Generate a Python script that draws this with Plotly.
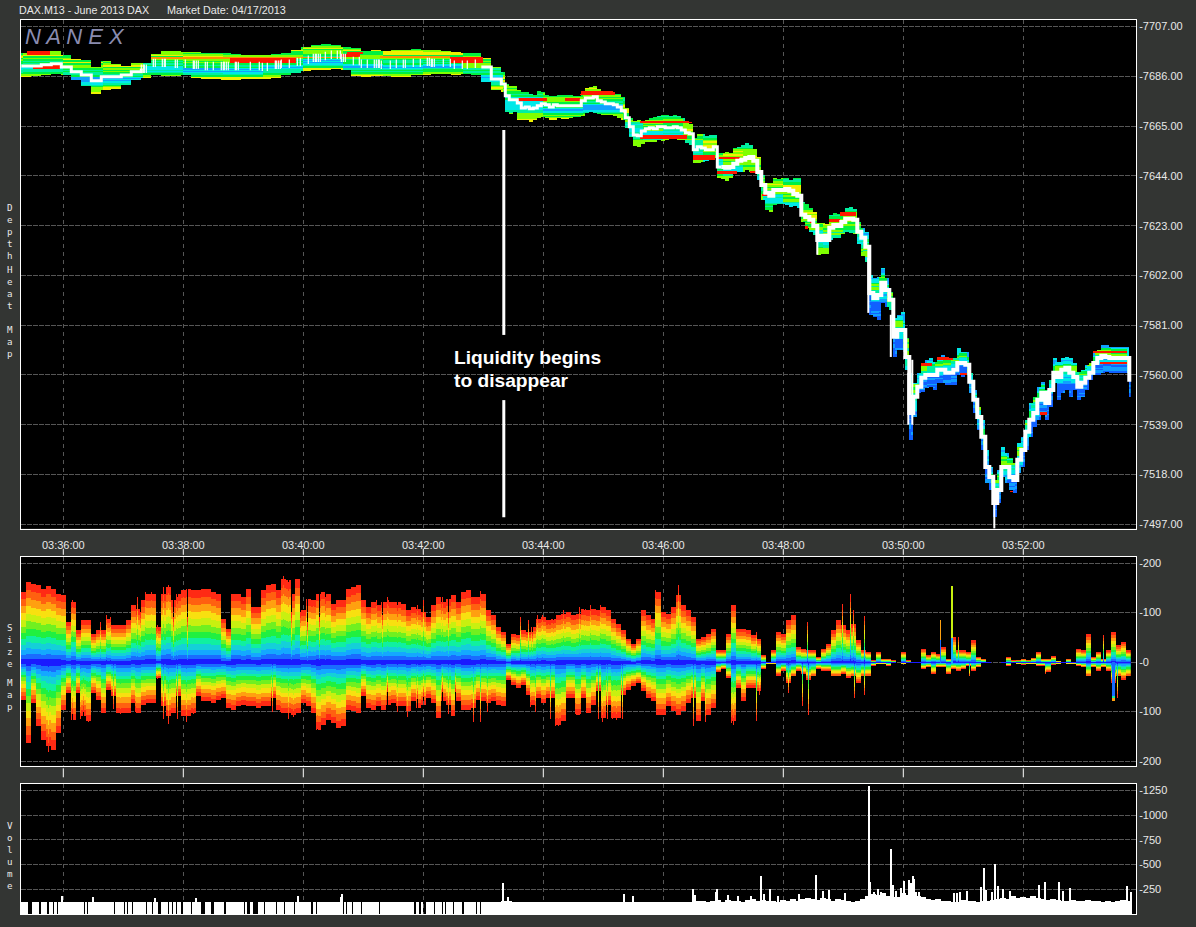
import numpy as np
import plotly.graph_objects as go

W, H = 1196, 927
title_left = "DAX.M13 - June 2013 DAX"
title_right = "Market Date: 04/17/2013"
time_ticks = [0, 120, 240, 360, 480, 600, 720, 840, 960]
time_labels = ["03:36:00", "03:38:00", "03:40:00", "03:42:00", "03:44:00", "03:46:00", "03:48:00", "03:50:00", "03:52:00"]
price_ticks = [7707, 7686, 7665, 7644, 7623, 7602, 7581, 7560, 7539, 7518, 7497]
size_ticks = [200, 100, 0, -100, -200]
size_labels = ["-200", "-100", "-0", "-100", "-200"]
vol_ticks = [1250, 1000, 750, 500, 250]

# ---------- price ribbon: seconds after 03:36:00 ----------
early_hi = [7695.9,7696.3,7696.7,7696.7,7695.1,7693.4,7693.0,7690.0,7692.5,7691.3,7690.4,7691.7,7691.7,7695.5,7696.7,7696.7,7696.3,7696.3,7695.9,7695.9,7695.9,7695.5,7695.1,7695.1,7695.1,7695.5,7695.9,7697.2,7698.4,7699.3,7699.7,7699.3,7698.4,7698.0,7696.7,7697.2,7696.7,7697.2,7697.2,7697.6,7697.2,7697.2,7696.7,7696.3,7695.9,7695.9,7693.8,7690.0]
early_lo = [7685.8,7686.2,7686.6,7687.1,7686.6,7684.5,7682.0,7678.6,7680.3,7680.7,7682.4,7684.5,7685.4,7686.6,7686.2,7686.2,7686.6,7685.4,7685.0,7685.0,7684.5,7684.5,7685.0,7685.0,7685.0,7685.4,7686.6,7687.5,7688.3,7688.7,7688.7,7689.2,7688.7,7686.2,7685.8,7686.2,7686.2,7685.8,7685.8,7686.6,7686.6,7687.1,7687.1,7686.6,7687.1,7686.6,7683.7,7680.3]
early_mid = [7690.4,7690.4,7690.9,7691.3,7690.0,7687.9,7686.6,7684.1,7685.8,7685.8,7686.6,7687.9,7689.2,7691.7,7691.7,7691.3,7691.3,7690.9,7690.4,7690.4,7690.4,7690.4,7690.4,7690.4,7690.0,7690.9,7691.3,7692.1,7693.0,7693.8,7694.6,7695.1,7693.8,7692.5,7691.3,7691.3,7690.9,7691.3,7691.3,7691.7,7692.1,7691.7,7691.7,7690.9,7690.9,7691.3,7690.0,7684.9]
late_hi = [7687.9,7682.8,7682.0,7682.0,7680.3,7679.5,7679.5,7678.6,7678.2,7679.9,7679.5,7678.2,7677.8,7677.8,7678.2,7678.2,7678.2,7678.2,7677.8,7677.8,7679.9,7681.2,7681.6,7682.0,7680.7,7679.9,7679.1,7679.1,7678.6,7678.6,7677.4,7672.7,7668.5,7667.2,7667.7,7666.4,7667.7,7668.5,7668.9,7669.3,7669.8,7669.8,7669.3,7669.8,7669.3,7668.5,7666.8,7666.0,7660.1,7661.8,7661.8,7660.9,7661.3,7661.3,7653.7,7653.7,7654.2,7653.7,7655.8,7656.3,7657.1,7658.0,7657.1,7655.4,7652.0,7644.4,7641.1,7641.1,7643.2,7642.8,7643.2,7643.2,7642.3,7643.2,7643.2,7633.1,7632.2,7630.5,7628.8,7624.2,7624.2,7623.8,7627.6,7628.4,7628.0,7628.8,7630.5,7631.0,7630.1,7624.6,7622.1,7620.4,7602.3,7601.0,7601.4,7605.2,7601.0,7595.1,7584.1,7585.4,7586.6,7575.7,7560.9,7556.7,7560.9,7565.1,7566.4,7567.2,7565.5,7567.6,7568.5,7567.2,7566.4,7567.2,7571.4,7569.8,7569.8,7560.9,7553.7,7546.5,7541.1,7528.4,7521.2,7515.7,7520.0,7529.7,7527.1,7525.0,7522.9,7531.4,7533.9,7541.1,7548.2,7550.8,7555.0,7557.1,7553.7,7557.9,7567.2,7565.5,7567.2,7567.6,7567.2,7565.1,7561.3,7562.2,7564.3,7565.1,7569.3,7570.6,7572.7,7572.7,7571.9,7571.9,7571.9,7571.9,7571.9,7564.3]
late_lo = [7679.5,7671.0,7670.2,7671.0,7667.7,7667.7,7667.7,7666.8,7667.7,7668.5,7668.9,7668.5,7667.7,7667.7,7668.5,7668.1,7668.1,7668.5,7668.9,7668.9,7669.3,7670.6,7671.0,7670.6,7670.2,7669.8,7669.8,7669.8,7669.3,7668.5,7667.7,7664.3,7660.5,7656.7,7656.3,7657.5,7658.4,7658.4,7658.4,7659.2,7658.8,7659.2,7659.6,7660.1,7659.2,7659.2,7658.0,7657.1,7649.5,7649.5,7649.9,7650.4,7651.2,7651.6,7643.2,7642.8,7641.9,7643.2,7644.9,7645.7,7645.7,7646.6,7645.7,7645.7,7642.3,7633.9,7629.7,7628.8,7631.8,7632.2,7632.2,7631.8,7630.9,7631.4,7630.5,7624.6,7622.1,7620.4,7619.1,7610.7,7611.1,7611.1,7617.0,7617.9,7617.9,7619.6,7620.4,7620.0,7619.6,7615.3,7610.3,7607.7,7585.4,7584.5,7583.3,7590.4,7588.7,7587.5,7567.6,7570.6,7570.6,7562.2,7532.6,7542.3,7552.5,7552.9,7554.6,7555.0,7553.7,7556.7,7556.7,7555.8,7555.8,7555.8,7560.0,7559.2,7560.0,7552.5,7544.0,7536.8,7528.4,7514.5,7511.5,7500.1,7506.0,7517.0,7514.5,7511.5,7510.3,7518.7,7521.2,7528.4,7533.9,7538.1,7541.1,7544.0,7541.1,7546.5,7556.7,7549.5,7552.5,7553.7,7550.8,7553.7,7549.5,7550.8,7553.7,7557.9,7560.0,7560.0,7560.9,7561.3,7560.9,7560.9,7560.9,7560.9,7560.9,7550.8]
late_mid = [7682.8,7677.8,7676.1,7676.1,7674.8,7672.7,7673.1,7672.3,7672.7,7673.6,7674.4,7674.0,7673.1,7674.0,7673.6,7673.6,7673.6,7673.6,7673.6,7673.6,7675.7,7676.9,7676.9,7677.4,7675.7,7675.2,7674.4,7674.4,7674.0,7673.1,7671.5,7668.5,7664.7,7661.3,7660.9,7663.0,7663.9,7664.3,7663.9,7664.7,7664.7,7664.3,7664.3,7664.7,7664.3,7663.4,7662.2,7661.8,7655.0,7656.3,7655.8,7655.0,7655.0,7656.3,7647.8,7647.8,7647.4,7647.8,7649.1,7650.4,7650.8,7651.6,7652.0,7650.4,7645.7,7640.2,7636.9,7635.6,7638.1,7638.1,7638.1,7638.5,7637.7,7636.4,7635.6,7627.6,7626.7,7625.5,7622.9,7617.0,7618.7,7617.0,7622.1,7623.3,7622.9,7624.6,7625.9,7625.9,7625.5,7620.4,7617.9,7614.1,7594.6,7592.5,7593.8,7598.9,7595.9,7591.7,7576.1,7579.0,7579.0,7567.6,7544.0,7550.8,7555.0,7558.8,7560.0,7560.0,7560.0,7562.2,7562.2,7560.9,7560.9,7562.2,7565.1,7565.1,7564.3,7557.1,7549.5,7542.3,7533.9,7521.2,7517.0,7506.0,7511.5,7521.2,7521.2,7517.0,7515.7,7524.2,7528.4,7536.0,7541.1,7544.0,7549.5,7552.5,7548.2,7553.7,7560.9,7559.2,7562.2,7563.0,7560.9,7559.2,7555.0,7556.7,7558.8,7560.9,7565.1,7567.2,7568.1,7567.6,7567.2,7567.2,7567.2,7567.2,7567.2,7557.1]
early_t = list(range(-42, 438, 10))
late_t = list(range(438, 438 + 4 * len(late_hi), 4))

# short white prints in the flat stretch (seconds)
print_t = [78, 80, 81, 83, 90, 92, 99, 101, 102, 112, 114, 122, 130, 131, 133, 135, 142, 144, 150, 158, 160, 161, 163, 165, 172, 173, 175, 187, 196, 199, 204, 212, 213, 215, 217, 218, 226, 234, 237, 245, 250, 252, 253, 255, 257, 262, 268, 274, 277, 278, 280, 282, 290, 296, 298, 304, 311, 313, 315, 316, 318, 327, 333, 340, 342, 350, 357, 364, 366, 368, 369, 371, 380, 387, 391, 399, 404, 412]

# resting levels: start s, end s, price, thickness in points, colour
level_t0 = [-36, -30, 77, 167, 277, 284, 117, 387, 317, 455, 502, 517, 577, 577, 630, 654, 654, 687, 699, 737, 765, 777, 747, 873, 856, 1030, 1037, 977, 947, 897]
level_t1 = [-13, -3, 230, 233, 297, 300, 277, 420, 387, 484, 517, 552, 624, 629, 652, 674, 677, 694, 707, 745, 777, 793, 752, 890, 869, 1064, 1064, 984, 950, 904]
level_p = [7695.9, 7690.0, 7693.8, 7693.0, 7695.1, 7695.9, 7694.2, 7693.0, 7694.2, 7676.5, 7676.5, 7679.1, 7660.7, 7666.8, 7652.0, 7645.7, 7651.6, 7645.7, 7636.0, 7622.5, 7625.5, 7628.0, 7625.0, 7567.2, 7564.7, 7569.8, 7565.1, 7544.0, 7510.7, 7560.5]
level_h = [1.2, 1.2, 0.6, 1.8, 0.9, 0.7, 0.5, 1.8, 0.6, 0.9, 0.9, 1.2, 1.3, 0.6, 1.6, 0.8, 0.6, 0.8, 0.6, 0.8, 0.8, 1.2, 0.8, 0.8, 0.8, 0.6, 0.6, 0.9, 0.6, 0.6]
level_c = ["red", "red", "orange", "red", "red", "red", "orange", "red", "orange", "red", "red", "red", "red", "red", "red", "red", "red", "red", "red", "red", "red", "red", "red", "red", "red", "red", "red", "red", "red", "red"]

wick_t = [805, 827.5, 845, 849, 931, 754]
wick_hi = [7609.4, 7585.4, 7560.9, 7566.4, 7509.4, 7617.0]
wick_lo = [7586.2, 7567.6, 7539.0, 7539.0, 7495.1, 7610.7]

# callout bars
callout_t = [440.5, 440.5, None, 440.5, 440.5]
callout_p = [7663.4, 7576.9, None, 7549.4, 7500.0]

# ---------- size map: 5 second columns ----------
size_up = [141,161,157,154,147,152,147,137,134,81,121,64,84,84,57,64,64,87,74,74,74,84,114,107,124,137,137,71,137,151,124,137,144,147,144,144,147,147,141,137,87,67,137,137,131,147,111,111,144,154,157,144,167,164,137,167,104,127,124,137,141,137,117,124,124,147,151,154,124,111,121,114,121,121,121,121,
           117,104,111,107,101,91,114,131,121,127,134,121,141,144,131,131,137,104,94,71,61,37,57,54,64,61,71,87,91,84,87,94,97,101,94,97,107,104,107,104,111,104,87,77,64,47,37,47,104,94,87,141,101,97,111,134,114,104,91,47,51,57,67,24,24,57,114,67,67,64,54,47,14,1,24,61,
           57,84,94,31,27,24,24,11,27,37,64,84,74,64,77,44,24,21,4,21,7,7,4,0,21,4,1,1,27,14,21,17,31,7,51,24,24,21,44,11,7,1,0,0,1,11,4,5,7,5,9,21,7,7,12,3,1,7,1,27,24,57,11,21,7,24,61,34,41,24,4]
size_dn = [76,163,83,129,156,169,176,143,96,63,116,63,109,119,63,76,103,56,69,103,103,103,83,103,86,83,83,33,89,109,103,69,109,109,103,69,79,79,83,76,73,93,96,89,86,89,89,93,89,89,73,96,103,103,106,103,83,89,103,136,126,116,123,133,129,96,99,103,69,93,96,89,96,86,83,89,
           89,99,79,93,86,73,83,113,79,86,109,79,96,96,93,76,79,83,79,86,89,36,46,53,46,66,86,73,83,73,73,126,119,73,73,106,73,103,86,59,113,86,113,113,66,56,49,43,59,73,79,106,106,89,99,106,99,83,73,119,79,106,93,19,13,33,119,53,79,53,53,59,13,3,3,26,
           16,43,29,16,23,36,29,13,16,16,29,29,23,33,29,43,29,29,6,3,3,6,1,0,3,1,1,1,13,9,23,9,9,23,13,16,13,6,16,9,1,0,0,0,0,6,1,3,4,3,3,6,6,19,4,3,1,3,3,6,9,29,9,16,9,16,43,29,36,29,3]
size_start = -42
size_step = 5
spike_up_t = [9, 220, 232, 417, 457, 474, 527, 592, 615, 668, 693, 744, 779, 787, 790, 801, 877, 888, 895, 1040,
              37, 43, 47, 74, 77, 82, 88, 94, 100, 105, 110, 114, 120, 124, 225, 228, 237, 244, 250, 256, 262, 307, 313, 319, 325, 324, 334, 354, 360, 364, 379, 385,
              465, 469, 479, 485, 490, 500, 507, 516, 521, 533, 537]
spike_up_v = [124, 172, 167, 142, 91, 94, 115, 144, 155, 115, 61, 81, 117, 136, 105, 93, 84, 152, 51, 54,
              80, 94, 90, 130, 100, 140, 140, 75, 150, 155, 90, 130, 145, 90, 160, 100, 100, 80, 125, 90, 130, 110, 125, 95, 125, 130, 115, 115, 125, 90, 130, 100,
              85, 60, 95, 85, 85, 105, 100, 110, 105, 105, 115]
spike_dn_t = [-15, 344, 373, 492, 495, 553, 630, 642, 668, 670, 693, 696, 725, 739, 745, 791, 801, 906, 982, 1050, 1054,
              9, 17, 20, 25, 50, 57, 72, 94, 100, 105, 114, 123, 130, 209, 217, 225, 230, 254, 324, 334, 354, 360, 379, 385, 392, 410, 417, 424, 467, 472, 487, 512, 517, 535, 539, 544, 549, 559]
spike_dn_v = [181, 111, 113, 129, 129, 117, 129, 121, 123, 126, 119, 66, 63, 89, 107, 73, 66, 29, 23, 79, 73,
              105, 115, 100, 120, 95, 105, 100, 35, 115, 125, 115, 120, 105, 100, 100, 115, 110, 135, 60, 100, 75, 70, 60, 105, 60, 120, 120, 100, 90, 100, 115, 105, 105, 115, 120, 115, 115, 115]
# columns with their own colour runs: second, side, upper limits, colour indices
custom_t = [888, 889, 877, 1049, 1050, 1051]
custom_side = [1, 1, 1, -1, -1, -1]
custom_limits = [[50, 152], [50, 152], [45, 84], [70, 74, 79], [70, 74, 79], [70, 74, 79]]
custom_colors = [[2, 7], [2, 7], [1, 9], [1, 4, 9], [1, 4, 9], [1, 4, 9]]

# ---------- volume ----------
vol_level_early = [122,125,122,128,122,122,125,122,122,125,128,122,122,125,122,122,122,125,122,122,122,125,122,128,122,122,122,125,122,122,122,125,122,122,122,122,125,122,125,122,122,125,122,122,122,122,125,128,130,125,122,128,125,122,125,122,125,122,122,122,125,122,125,122,122,122,122]
vol_level_late = [125,135,130,125,135,140,125,145,130,135,125,140,150,135,140,130,135,125,140,135,150,130,
                  150,160,150,140,160,150,135,150,140,135,125,130,
                  150,180,200,190,210,180,170,170,210,190,200,180,170,
                  150,140,150,135,130,125,125,140,130,135,125,135,130,140,150,160,150,180,165,170,160,180,165,150,140,150,140,130,135,140,135,130,145,135,130,125,135,125,130,140,135]
vol_spike_t = [-2, 29, 91, 132, 234, 277, 278, 439, 444, 560, 569, 629, 631, 652, 653, 664, 674, 687, 697, 700, 706, 714, 735, 752, 759, 765, 781, 805, 806, 810, 814, 817, 827, 829, 832, 837, 840, 845, 847, 849, 850, 852, 855, 890, 893, 896, 903, 917, 920, 922, 928, 931, 934, 939, 946, 975, 981, 995, 999, 1006, 1063, 1067]
vol_spike_v = [182, 172, 162, 162, 182, 172, 203, 314, 172, 203, 182, 253, 192, 223, 253, 192, 182, 182, 385, 203, 253, 182, 203, 395, 233, 243, 213, 1300, 327, 223, 253, 223, 658, 294, 236, 266, 334, 344, 317, 385, 354, 223, 223, 216, 216, 223, 236, 277, 466, 243, 223, 506, 284, 253, 236, 294, 327, 327, 236, 266, 284, 223]
vol_gap_t = [-36, -25, -17, -11, -7, -4, 20, 23, 50, 60, 63, 68, 82, 88, 94, 104, 108, 112, 117, 127, 131, 137, 147, 152, 155, 157, 160, 166, 170, 172, 174, 176, 180, 183, 189, 200, 203, 205, 208, 210, 212, 220, 230, 237, 239, 241, 243, 245, 247, 252, 255, 257, 262, 265, 268, 272, 276, 279, 282, 285, 288, 293, 295, 297, 300, 303, 306, 309, 315, 319, 324, 327, 330, 337, 341, 347, 350, 355, 359, 362, 365, 367, 370, 373, 375, 378, 381, 385, 387, 389, 390, 392, 394, 396, 398, 400, 412, 416, 425, 490, 500, 506, 512, 536, 542, 549, 554, 592, 598, 614, 646, 791]
vol_gap_n = [5, 3, 3, 2, 2, 1, 2, 2, 2, 2, 2, 2, 2, 2, 4, 2, 2, 2, 3, 2, 2, 5, 4, 1, 1, 1, 3, 1, 1, 1, 1, 1, 2, 4, 6, 2, 1, 1, 1, 1, 2, 2, 2, 1, 1, 1, 1, 1, 3, 2, 1, 1, 1, 1, 1, 1, 1, 2, 2, 1, 2, 1, 1, 2, 1, 1, 1, 1, 2, 1, 1, 1, 1, 1, 1, 1, 3, 3, 3, 1, 1, 1, 2, 1, 1, 2, 2, 1, 1, 1, 1, 1, 1, 1, 3, 1, 2, 2, 1, 1, 1, 1, 1, 1, 1, 1, 1, 1, 1, 1, 1, 1]

assert len(level_t0) == len(level_t1) == len(level_p) == len(level_h) == len(level_c), (len(level_t0), len(level_t1), len(level_p), len(level_h), len(level_c))
assert len(vol_gap_t) == len(vol_gap_n), (len(vol_gap_t), len(vol_gap_n))

# ---------- palettes ----------
size_colors = ["#1a1aff", "#1a6cff", "#14a8ff", "#14d0d8", "#10f0a0", "#20f040", "#70f020", "#c8f010", "#f8e010", "#ffa010", "#ff6010", "#ff2a14"]
ribbon_named = {"blue": "#1060ff", "lightblue": "#10a0ff", "cyan": "#00e8e8", "teal": "#00f0a0", "green": "#00f040", "lime": "#80ff00", "yellow": "#f0f000", "orange": "#ff9000", "red": "#ff1800"}
ribbon_names = list(ribbon_named)
regime_start = [-42, 560, 800]
regime_window = [40, 20, 8]
regime_bands = [
    ["green", "lime", "yellow", "green", "lime", "lime", "green", "teal", "green", "cyan", "lightblue", "cyan", "teal", "green", "lime", "yellow"],
    ["teal", "green", "lime", "yellow", "lime", "green", "lime", "teal", "cyan", "cyan", "teal", "green", "lime"],
    ["lightblue", "cyan", "green", "lime", "teal", "cyan", "cyan", "lightblue", "blue", "blue", "lightblue", "blue"],
]


def discrete_scale(colors):
    n = len(colors)
    out = []
    for i, c in enumerate(colors):
        out += [[i / n, c], [(i + 1) / n, c]]
    return out


# ---------- price heatmap grid ----------
p_t = np.array(early_t + late_t)
p_hi = np.array(early_hi + late_hi)
p_lo = np.array(early_lo + late_lo)
p_mid = np.array(early_mid + late_mid)
hm_t = np.arange(-42, 1068)
p0, dp = 7495.0, 0.4219
hm_p = p0 + dp * np.arange(511)
zp = np.full((hm_p.size, hm_t.size), np.nan, dtype="float32")
col_of = np.clip(np.searchsorted(p_t, hm_t, side="right") - 1, 0, p_t.size - 1)
stripe = (np.floor(hm_p / 1.27).astype(int) % 3 == 0).astype(int)
for ci, t in enumerate(hm_t):
    j = col_of[ci]
    reg = np.searchsorted(regime_start, t, side="right") - 1
    bands = regime_bands[reg]
    win = regime_window[reg]
    in_win = (hm_t // win) == (t // win)
    ref_hi = p_hi[col_of[in_win]].max()
    ref_lo = p_lo[col_of[in_win]].min()
    mask = (hm_p >= p_lo[j]) & (hm_p <= p_hi[j])
    rel = (ref_hi - hm_p[mask]) / max(ref_hi - ref_lo, 0.01)
    idx = np.minimum((rel * len(bands)).astype(int) + stripe[mask], len(bands) - 1)
    zp[mask, ci] = [ribbon_names.index(bands[k]) + 0.5 for k in idx]
for t0, t1, p, h, c in zip(level_t0, level_t1, level_p, level_h, level_c):
    rm = (hm_p >= p - h * 0.7) & (hm_p <= p + h * 0.7)
    for ci in np.where((hm_t >= t0) & (hm_t < t1))[0]:
        j = col_of[ci]
        zp[rm & (hm_p >= p_lo[j] - 0.5) & (hm_p <= p_hi[j] + 0.8), ci] = ribbon_names.index(c) + 0.5

# ---------- size heatmap grid ----------
s0, ds = -210.0, 2.0
hm_s = s0 + ds * np.arange(211)
up = np.array([size_up[min(max((t - size_start) // size_step, 0), len(size_up) - 1)] for t in hm_t], dtype=float)
dn = np.array([size_dn[min(max((t - size_start) // size_step, 0), len(size_dn) - 1)] for t in hm_t], dtype=float)
for t, v in zip(spike_up_t, spike_up_v):
    up[t - hm_t[0]] = v
for t, v in zip(spike_dn_t, spike_dn_v):
    dn[t - hm_t[0]] = v
zs = np.full((hm_s.size, hm_t.size), np.nan, dtype="float32")
N = len(size_colors)
for ci in range(hm_t.size):
    if up[ci] > 0:
        m = (hm_s >= 0) & (hm_s <= up[ci])
        zs[m, ci] = np.minimum(((hm_s[m] / up[ci]) ** 0.8 * N).astype(int), N - 1) + 0.5
    if dn[ci] > 0:
        m = (hm_s < 0) & (hm_s >= -dn[ci])
        zs[m, ci] = np.minimum(((-hm_s[m] / dn[ci]) ** 0.8 * N).astype(int), N - 1) + 0.5
for t, side, lims, cols in zip(custom_t, custom_side, custom_limits, custom_colors):
    ci = t - hm_t[0]
    zs[:, ci] = np.where(hm_s * side >= 0, np.nan, zs[:, ci])
    prev = 0
    for lim, col in zip(lims, cols):
        m = (hm_s * side >= prev) & (hm_s * side <= lim)
        zs[m, ci] = col + 0.5
        prev = lim

# ---------- volume per second ----------
vol = np.zeros(hm_t.size)
for ci, t in enumerate(hm_t):
    if t < 627:
        vol[ci] = vol_level_early[min((t + 42) // 10, len(vol_level_early) - 1)]
    else:
        vol[ci] = vol_level_late[min((t - 627) // 5, len(vol_level_late) - 1)]
for t, n in zip(vol_gap_t, vol_gap_n):
    vol[t + 42: t + 42 + n] = 0
for t, v in zip(vol_spike_t, vol_spike_v):
    vol[t + 42] = v

# ---------- figure ----------
fig = go.Figure()
fig.add_trace(go.Heatmap(x0=-42, dx=1, y0=p0, dy=dp, z=zp, zmin=0, zmax=len(ribbon_names), zsmooth=False,
                         colorscale=discrete_scale(list(ribbon_named.values())), showscale=False, hoverinfo="skip",
                         xaxis="x", yaxis="y"))


def white(ts, ps, width):
    fig.add_trace(go.Scatter(x=ts, y=ps, mode="lines", line=dict(color="white", width=width, shape="hv"),
                             hoverinfo="skip", showlegend=False, xaxis="x", yaxis="y"))


a = int(np.searchsorted(p_t, 80))
b = int(np.searchsorted(p_t, 418))
c = int(np.searchsorted(p_t, 660))
white(p_t[:a], p_mid[:a], 3)
white(p_t[b:c], p_mid[b:c], 3)
white(p_t[c - 1:], p_mid[c - 1:], 4)
print_p = [p_mid[np.searchsorted(p_t, t, side="right") - 1] for t in print_t]
fig.add_trace(go.Scatter(x=print_t, y=print_p, mode="markers", marker=dict(symbol="line-ns", size=6, color="white", line=dict(color="white", width=1.2)),
                         hoverinfo="skip", showlegend=False, xaxis="x", yaxis="y"))
wx, wy = [], []
for t, u, v in zip(wick_t, wick_hi, wick_lo):
    wx += [t, t, None]
    wy += [u, v, None]
fig.add_trace(go.Scatter(x=wx, y=wy, mode="lines", line=dict(color="white", width=2), hoverinfo="skip", showlegend=False, xaxis="x", yaxis="y"))
fig.add_trace(go.Scatter(x=callout_t, y=callout_p, mode="lines", line=dict(color="white", width=3), hoverinfo="skip", showlegend=False, xaxis="x", yaxis="y"))
fig.add_trace(go.Heatmap(x0=-42, dx=1, y0=s0, dy=ds, z=zs, zmin=0, zmax=N, zsmooth=False,
                         colorscale=discrete_scale(size_colors), showscale=False, hoverinfo="skip", xaxis="x2", yaxis="y2"))
fig.add_trace(go.Bar(x=hm_t, y=vol, width=1, marker=dict(color="white", line=dict(width=0)), hoverinfo="skip", showlegend=False, xaxis="x3", yaxis="y3"))

GRID = "#565656"
xr = [-42.8, 1072.7]


def xaxis(**kw):
    return dict(domain=[20.5 / W, 1136 / W], range=xr, tickmode="array", tickvals=time_ticks, showgrid=True, gridcolor=GRID, gridwidth=1,
                griddash="4px,4px", showline=True, linecolor="white", linewidth=1, mirror=True, zeroline=False, ticks="", **kw)


def yaxis(top, bot, rng, vals, labels, anchor):
    return dict(domain=[1 - bot / H, 1 - top / H], range=rng, tickmode="array", tickvals=vals, ticktext=labels, side="right", anchor=anchor,
                showgrid=True, gridcolor=GRID, griddash="5px,1px", showline=True, linecolor="white", linewidth=1, mirror=True, zeroline=False, ticks="",
                tickfont=dict(family="Liberation Sans", size=11, color="#e8e8e8"))


annotations = []


def note(text, px, py, size=11, color="#e8e8e8", family="Liberation Sans", xanchor="left", align="left", **font):
    annotations.append(dict(text=text, x=px / W, y=1 - py / H, xref="paper", yref="paper", xanchor=xanchor, yanchor="middle", showarrow=False,
                            align=align, font=dict(family=family, size=size, color=color, **font)))


note(title_left, 17, 10, size=10.7)
note(title_right, 165, 10, size=10.8)
note("N A N E X", 23, 37, size=22, color="#8a8cb0", style="italic")
note("Liquidity begins", 452, 358, size=19.2, color="white", weight="bold")
note("to disappear", 452, 381, size=19.2, color="white", weight="bold")
for word, y in [("Depth", 231.5), ("Heat", 288.5), ("Map", 342), ("Size", 646.5), ("Map", 696.5), ("Volume", 857)]:
    note("<br>".join(word), 10, y, size=9.2, family="DejaVu Sans Mono", xanchor="center", align="center")

shapes = []
for t in time_ticks:
    for u, v in [(550, 556), (770, 779)]:
        shapes.append(dict(type="line", xref="x", yref="paper", x0=t, x1=t, y0=1 - u / H, y1=1 - v / H, line=dict(color="white", width=1)))

fig.update_layout(
    width=W, height=H, autosize=False, margin=dict(l=0, r=0, t=0, b=0),
    paper_bgcolor="#333533", plot_bgcolor="black", showlegend=False, barmode="overlay", bargap=0,
    xaxis=xaxis(anchor="y", ticktext=time_labels, ticklabelstandoff=6, tickfont=dict(family="Liberation Sans", size=11, color="#e8e8e8")),
    xaxis2=xaxis(anchor="y2", showticklabels=False),
    xaxis3=xaxis(anchor="y3", showticklabels=False),
    yaxis=yaxis(20, 529.7, [7495.2, 7709.8], price_ticks, ["-%d.00" % p for p in price_ticks], "x"),
    yaxis2=yaxis(558, 767.5, [-209.5, 212.7], size_ticks, size_labels, "x2"),
    yaxis3=yaxis(785.5, 916, [0, 1317], vol_ticks, ["-%d" % v for v in vol_ticks], "x3"),
    annotations=annotations, shapes=shapes,
)

fig.write_html("out.html", config={"displayModeBar": False}, post_script="document.body.style.margin='0';document.documentElement.style.overflow='hidden';")
